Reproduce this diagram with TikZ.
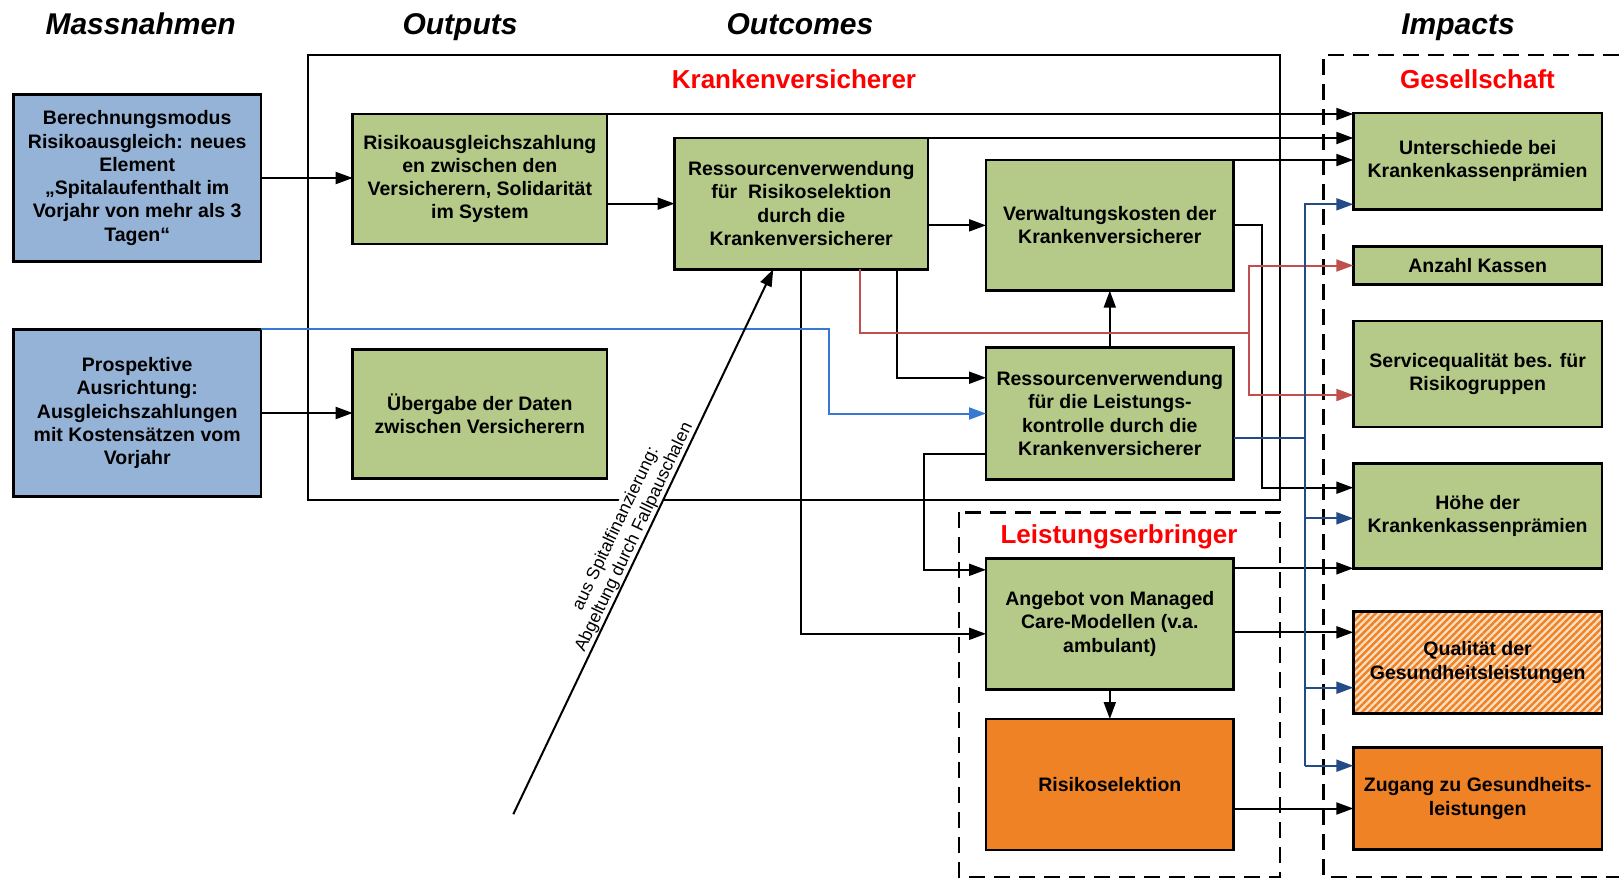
\documentclass[tikz,border=0pt]{standalone}
\usepackage{fontspec}
\setmainfont{Liberation Sans}
\usetikzlibrary{arrows.meta,patterns.meta,calc}
\definecolor{blueC}{RGB}{149,179,215}
\definecolor{greenC}{RGB}{181,201,136}
\definecolor{orangeC}{RGB}{240,130,38}
\definecolor{paleO}{RGB}{252,224,196}
\definecolor{redT}{RGB}{255,0,0}
\definecolor{redL}{RGB}{192,80,77}
\definecolor{lblue}{RGB}{55,120,210}
\definecolor{dblue}{RGB}{35,75,135}
\tikzset{
  base/.style={draw=black, line width=2.6pt, align=center, inner sep=0pt, outer sep=0pt,
    font=\fontsize{19.5pt}{23.3pt}\selectfont\bfseries, text=black},
  bbox/.style={base, fill=blueC},
  gbox/.style={base, fill=greenC},
  obox/.style={base, fill=orangeC},
  hbox/.style={base, preaction={fill=paleO}, pattern={Lines[angle=45,distance=5pt,line width=2.5pt]}, pattern color=orangeC},
  conn/.style={line width=2pt, draw=black},
  arr/.style={conn, -{Triangle[length=17pt,width=12pt]}},
  redl/.style={line width=2pt, draw=redL},
  redarr/.style={redl, -{Triangle[length=17pt,width=12pt]}},
  lbarr/.style={line width=2pt, draw=lblue, -{Triangle[length=17pt,width=12pt]}},
  dbl/.style={line width=2pt, draw=dblue},
  dbarr/.style={dbl, -{Triangle[length=17pt,width=12pt]}},
  dashbox/.style={line width=2.4pt, draw=black, dash pattern=on 16pt off 9pt},
  title/.style={font=\fontsize{30pt}{36pt}\selectfont\bfseries\itshape, text=black, anchor=base},
  redlabel/.style={font=\fontsize{26pt}{30pt}\selectfont\bfseries, text=redT},
}
\begin{document}
\begin{tikzpicture}[x=1pt,y=-1pt]
\useasboundingbox (0,0) rectangle (1619,879);

% titles
\node[title] (tMass) at (140.6,34) {Massnahmen};
\node[title] (tOut) at (460,34) {Outputs};
\node[title] (tOutc) at (800,34) {Outcomes};
\node[title] (tImp) at (1458,34) {Impacts};

% frames
\draw[line width=2.2pt] (308,55) rectangle (1280,500);
\node[redlabel] (lKV) at (794,79) {Krankenversicherer};
\draw[dashbox] (1619,55) -- (1323.3,55) -- (1323.3,877) -- (1619,877);
\node[redlabel] (lGes) at (1477.5,79) {Gesellschaft};
\draw[dashbox] (958.7,512.3) rectangle (1280,877);
\node[redlabel] (lLE) at (1119,536.7) {Leistungserbringer};

% boxes
\node[bbox, minimum width=247.6pt, minimum height=167.4pt] (B1) at (137.2,178)
  {Berechnungsmodus\\Risikoausgleich: neues\\Element\\„Spitalaufenthalt im\\Vorjahr von mehr als 3\\Tagen“};
\node[bbox, minimum width=247.6pt, minimum height=167.4pt] (B2) at (137.2,413)
  {Prospektive\\Ausrichtung:\\Ausgleichszahlungen\\mit Kostensätzen vom\\Vorjahr};
\node[gbox, minimum width=254.3pt, minimum height=130pt] (R) at (479.85,179)
  {Risikoausgleichszahlung\\en zwischen den\\Versicherern, Solidarität\\im System};
\node[gbox, minimum width=254.3pt, minimum height=129.2pt] (U) at (479.85,413.9)
  {Übergabe der Daten\\zwischen Versicherern};
\node[gbox, minimum width=253.5pt, minimum height=131.3pt] (RR) at (801.25,203.65)
  {Ressourcenverwendung\\für\ \ Risikoselektion\\durch die\\Krankenversicherer};
\node[gbox, minimum width=247.6pt, minimum height=130.7pt] (V) at (1109.8,225.35)
  {Verwaltungskosten der\\Krankenversicherer};
\node[gbox, minimum width=247.6pt, minimum height=131.6pt] (RL) at (1109.8,413.5)
  {Ressourcenverwendung\\für die Leistungs-\\kontrolle durch die\\Krankenversicherer};
\node[gbox, minimum width=247.6pt, minimum height=131pt] (A) at (1109.8,623.8)
  {Angebot von Managed\\Care-Modellen (v.a.\\ambulant)};
\node[obox, minimum width=247.6pt, minimum height=131pt] (RS) at (1109.8,784.5)
  {Risikoselektion};

\node[gbox, minimum width=248.7pt, minimum height=96.3pt] (I1) at (1477.65,161.15)
  {Unterschiede bei\\Krankenkassenprämien};
\node[gbox, minimum width=248.7pt, minimum height=37.6pt] (I2) at (1477.65,265.5)
  {Anzahl Kassen};
\node[gbox, minimum width=248.7pt, minimum height=106pt] (I3) at (1477.65,374)
  {Servicequalität bes. für\\Risikogruppen};
\node[gbox, minimum width=248.7pt, minimum height=105pt] (I4) at (1477.65,515.8)
  {Höhe der\\Krankenkassenprämien};
\node[hbox, minimum width=248.7pt, minimum height=101.6pt] (I5) at (1477.65,662.5)
  {Qualität der\\Gesundheitsleistungen};
\node[obox, minimum width=248.7pt, minimum height=101.6pt] (I6) at (1477.65,798.5)
  {Zugang zu Gesundheits-\\leistungen};

% helper coordinates
\coordinate (c1) at (1261.7,487.7);
\coordinate (r1) at (859.8,333);
\coordinate (r2) at (1249.3,333);
\coordinate (k1) at (896.9,377.7);
\coordinate (lb) at (829.3,0);
\coordinate (k3) at (924,0);
\coordinate (a1) at ([yshift=54pt]A.west);
\coordinate (rlw) at ([yshift=-40pt]RL.west);
\coordinate (bv) at (1305,0);
\coordinate (rlb) at ([yshift=-24pt]RL.east);
\coordinate (t1) at ([yshift=5pt]I1.south west);
\coordinate (t2) at ([yshift=-2.5pt]I4.west);
\coordinate (t3) at ([yshift=25.6pt]I5.south west);
\coordinate (t4) at ([yshift=-18pt]I6.north west);
\coordinate (a2) at ([yshift=-10pt]A.north east);
\coordinate (a3) at ([yshift=-8.5pt]A.east);
\coordinate (rs1) at ([yshift=-24pt]RS.east);
\coordinate (dstart) at (513.3,814.2);
\coordinate (dend) at ([xshift=-28pt]RR.south);

% black connectors
\draw[arr] (B1.east) -- (B1.east -| R.west);
\draw[arr] (B2.east) -- (B2.east -| U.west);
\draw[arr] (RR.west -| R.east) -- (RR.west);
\draw[arr] (R.north east) -- (R.north east -| I1.west);
\draw[arr] (RR.north east) -- (RR.north east -| I1.west);
\draw[arr] (V.north east) -- (V.north east -| I1.west);
\draw[arr] (V.west -| RR.east) -- (V.west);
\draw[arr] (V.east) -| (c1) -- (c1 -| I4.west);
\draw[arr] (k1 |- RR.south) -- (k1) -- (k1 -| RL.west);
\draw[arr] (RR.south) |- ([yshift=-10pt]A.west);
\draw[arr] (RL.north) -- (V.south);
\draw[arr] (rlw) -| (a1 -| k3) -- (a1);
\draw[arr] (a2) -- (a2 -| I4.west);
\draw[arr] (a3) -- (a3 -| I5.west);
\draw[arr] (A.south) -- (RS.north);
\draw[arr] (rs1) -- (rs1 -| I6.west);

% red connectors
\draw[redl] (r1 |- RR.south) -- (r1) -- (r2);
\draw[redarr] (r2) |- (I2.west);
\draw[redarr] (r2) |- ([yshift=-21pt]I3.west);

% light blue connector
\draw[lbarr] (B2.north east) -| (lb |- RL.west) -- (RL.west);

% dark blue connectors
\draw[dbl] (rlb) -- (rlb -| bv);
\draw[dbarr] (t4 -| bv) |- (t1);
\draw[dbarr] (t2 -| bv) -- (t2);
\draw[dbarr] (t3 -| bv) -- (t3);
\draw[dbarr] (t4 -| bv) -- (t4);

% diagonal arrow with label
\path (dstart) -- node[sloped, above, pos=0.5, fill=white, inner sep=1.5pt, align=center,
  font=\fontsize{17.6pt}{20.2pt}\selectfont] (dlab)
  {aus Spitalfinanzierung:\\Abgeltung durch Fallpauschalen} (dend);
\draw[arr] (dstart) -- (dend);
\end{tikzpicture}
\end{document}
